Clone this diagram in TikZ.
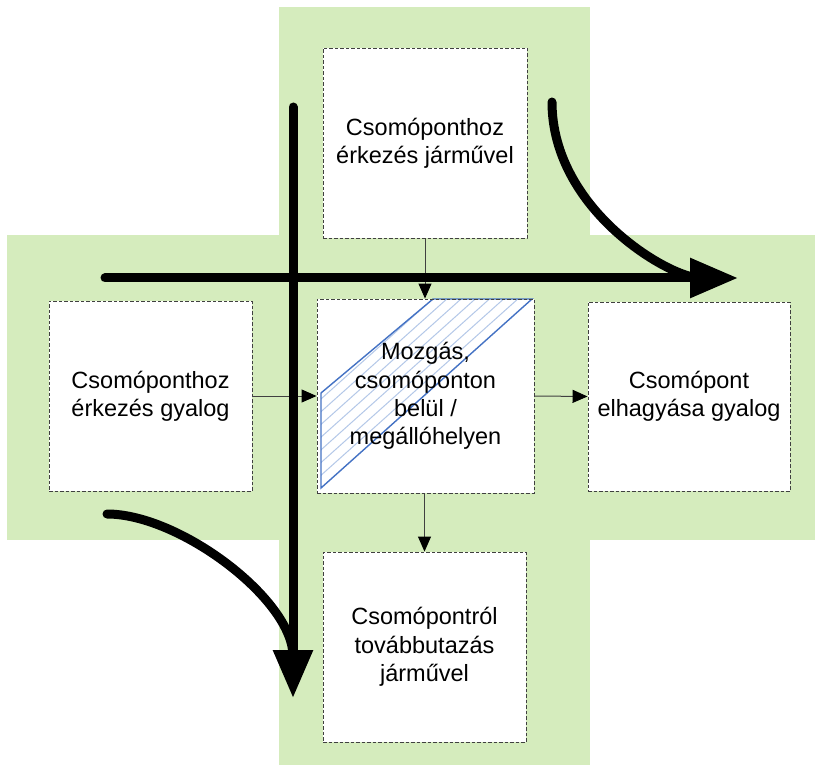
\documentclass[tikz,border=0pt]{standalone}
\usepackage{fontspec}
\setmainfont{Liberation Sans}
\usetikzlibrary{arrows.meta}
\definecolor{crossgreen}{RGB}{213,236,189}
\definecolor{hatchblue}{RGB}{180,200,232}
\definecolor{edgeblue}{RGB}{68,114,196}
\definecolor{linegray}{RGB}{64,64,64}
\tikzset{
  stagebox/.style={draw=linegray, line width=0.9pt, dash pattern=on 3.5pt off 2pt,
    fill=white, minimum width=204pt, minimum height=190pt, inner sep=0pt,
    align=center, font=\fontsize{23.5}{28.3}\selectfont},
  thinarrow/.style={draw=linegray, line width=1pt,
    -{Triangle[length=15pt,width=13pt,color=black]}},
  thickarrow/.style={draw=black, line width=9pt, line cap=round,
    -{Triangle[length=48pt,width=38pt]}},
  thickcurve/.style={draw=black, line width=9pt, line cap=round},
}
\begin{document}
\begin{tikzpicture}[x=1pt,y=-1pt]
\useasboundingbox (0,0) rectangle (815,765);
% green cross
\fill[crossgreen] (279,7) rectangle (590,765);
\fill[crossgreen] (7,235) rectangle (815,540);
% middle box background and hatched parallelogram
\fill[white] (317,299) rectangle (534,493);
\begin{scope}
  \clip (321,393) -- (433,299) -- (532,299) -- (321,488) -- cycle;
  \foreach \i in {1,...,8}
    \draw[hatchblue, line width=1pt] ({321-\i*14.2},488) ++(-211,189) -- ++(633,-567);
\end{scope}
\draw[edgeblue, line width=1.4pt, line join=miter] (321,393) -- (433,299) -- (532,299) -- (321,488) -- cycle;
% boxes
\node[stagebox] (top) at (425,143) {Csomóponthoz\\érkezés járművel};
\node[stagebox, minimum width=203pt] (left) at (150.5,396) {Csomóponthoz\\érkezés gyalog};
\node[stagebox, fill=none, minimum width=217pt, minimum height=194pt] (mid) at (425.5,396) {Mozgás,\\csomóponton\\belül /\\megállóhelyen};
\node[stagebox, minimum width=202pt, minimum height=189pt] (right) at (689,396.5) {Csomópont\\elhagyása gyalog};
\node[stagebox, minimum width=203pt] (bot) at (424.5,647) {Csomópontról\\továbbutazás\\járművel};
% thin connectors
\draw[thinarrow] (top.south) -- (top.south |- mid.north);
\draw[thinarrow] (left.east) -- (mid.west);
\draw[thinarrow] (mid.east) -- (right.west);
\draw[thinarrow] (mid.south -| bot.north) -- (bot.north);
% thick movement arrows
\coordinate (vstart) at (293,107);
\coordinate (vend) at (293,698);
\coordinate (hstart) at (105,278);
\coordinate (hend) at (738,278);
\coordinate (c1start) at (552,102);
\coordinate (c1end) at (700,278);
\coordinate (c2start) at (107,514);
\coordinate (c2end) at (293,656);
\draw[thickcurve] (c1start) .. controls (552,210) and (670,278) .. (c1end);
\draw[thickcurve] (c2start) .. controls (180,514) and (293,600) .. (c2end);
\draw[thickarrow] (hstart) -- (hend);
\draw[thickarrow] (vstart) -- (vend);
\end{tikzpicture}
\end{document}
